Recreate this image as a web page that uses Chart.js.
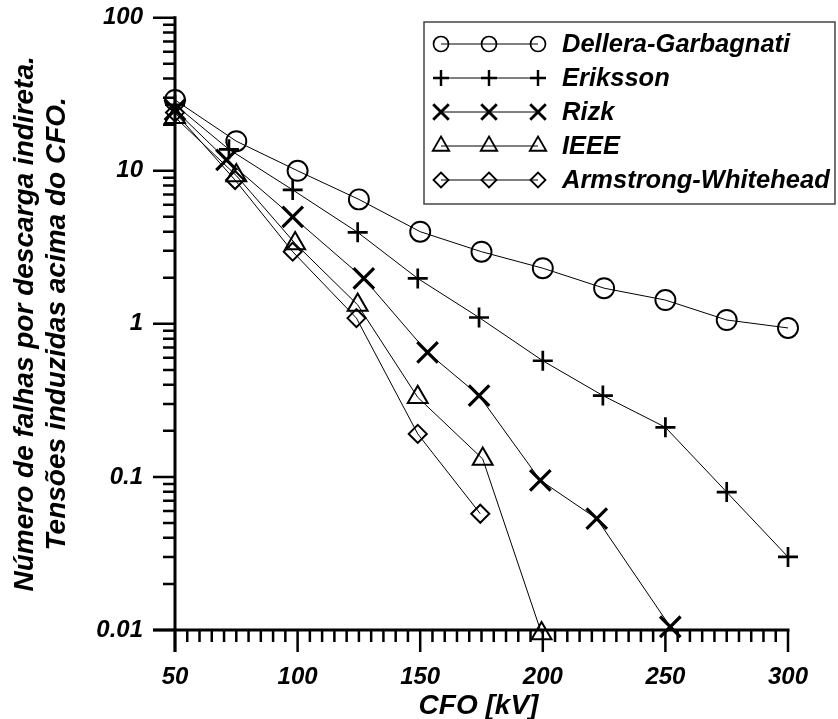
<!DOCTYPE html>
<html>
<head>
<meta charset="utf-8">
<script src="https://cdn.jsdelivr.net/npm/chart.js@4"></script>
<style>
  html, body { margin: 0; padding: 0; background: #ffffff; }
  #wrap { position: relative; width: 838px; height: 719px; }
</style>
</head>
<body>
<div id="wrap"><canvas id="c" width="838" height="719"></canvas></div>
<script>
// ---- data ----
const seriesNames = ['Dellera-Garbagnati', 'Eriksson', 'Rizk', 'IEEE', 'Armstrong-Whitehead'];

const cfoDellera = [50, 75, 100, 125, 150, 175, 200, 225, 250, 275, 300];
const dellera    = [29, 15.6, 10, 6.5, 4.0, 2.96, 2.31, 1.71, 1.43, 1.06, 0.94];

const cfoEriksson = [50, 72, 98, 124.5, 149, 174, 200, 224.5, 250, 275, 300];
const eriksson    = [27, 13.8, 7.5, 3.96, 1.98, 1.1, 0.574, 0.34, 0.211, 0.0796, 0.030];

const cfoRizk = [50, 71, 98, 127, 153, 174, 199, 222, 252];
const rizk    = [25, 11.8, 5.0, 1.98, 0.65, 0.34, 0.095, 0.0534, 0.0105];

const cfoIEEE = [50, 75, 99, 124.5, 149, 175.5, 199.5];
const ieee    = [22.4, 9.3, 3.35, 1.33, 0.331, 0.131, 0.0095];

const cfoArmstrong = [50, 74.5, 98, 124, 149, 174.5];
const armstrong    = [24, 8.7, 2.96, 1.09, 0.191, 0.0575];

const xTickValues = [50, 100, 150, 200, 250, 300];
const xTickLabels = ['50', '100', '150', '200', '250', '300'];
const yTickValues = [0.01, 0.1, 1, 10, 100];
const yTickLabels = ['0.01', '0.1', '1', '10', '100'];

const xTitle = 'CFO [kV]';
const yTitleLines = ['Número de falhas por descarga indireta.', 'Tensões induzidas acima do CFO.'];

// ---- styles ----
const FONT_FAMILY = "'Liberation Sans', Arial, sans-serif";
const markerStyles = [
  { pointStyle: 'circle',   radius: 10,   width: 1.9, legendRadius: 7.5 },
  { pointStyle: 'cross',    radius: 10,   width: 2.7, legendRadius: 8 },
  { pointStyle: 'crossRot', radius: 14.5, width: 3.2, legendRadius: 11 },
  { pointStyle: 'triangle', radius: 11.5, width: 2,   legendRadius: 9.5 },
  { pointStyle: 'rectRot',  radius: 9,    width: 2,   legendRadius: 7.5 }
];

const xs = [cfoDellera, cfoEriksson, cfoRizk, cfoIEEE, cfoArmstrong];
const ys = [dellera, eriksson, rizk, ieee, armstrong];

const datasets = seriesNames.map((name, i) => ({
  label: name,
  data: xs[i].map((x, j) => ({ x: x, y: ys[i][j] })),
  borderColor: '#000',
  borderWidth: 1,
  pointStyle: markerStyles[i].pointStyle,
  pointRadius: markerStyles[i].radius,
  pointHoverRadius: markerStyles[i].radius,
  pointBorderWidth: markerStyles[i].width,
  pointBorderColor: '#000',
  pointBackgroundColor: 'rgba(0,0,0,0)',
  showLine: true,
  fill: false,
  tension: 0,
  clip: false
}));

// axes, ticks, titles and legend
const decorPlugin = {
  id: 'decor',
  afterDraw(chart) {
    const ctx = chart.ctx;
    const xS = chart.scales.x, yS = chart.scales.y;
    const left = xS.getPixelForValue(50), right = xS.getPixelForValue(300);
    const top = yS.getPixelForValue(100), bottom = yS.getPixelForValue(0.01);
    const MAJ = 22, MIN = 12;
    ctx.save();
    ctx.strokeStyle = '#000';
    ctx.lineCap = 'butt';
    ctx.lineWidth = 3;
    // axis lines
    ctx.beginPath();
    ctx.moveTo(left, top - 1.5); ctx.lineTo(left, bottom + MAJ);
    ctx.moveTo(left - MAJ, bottom); ctx.lineTo(right + 1.5, bottom);
    ctx.stroke();
    // y ticks
    ctx.lineWidth = 2.5;
    ctx.beginPath();
    yTickValues.forEach((d, i) => {
      const py = yS.getPixelForValue(d);
      ctx.moveTo(left - MAJ, py); ctx.lineTo(left, py);
      if (i < yTickValues.length - 1) {
        for (let k = 2; k <= 9; k++) {
          const p = yS.getPixelForValue(k * d);
          ctx.moveTo(left - MIN, p); ctx.lineTo(left, p);
        }
      }
    });
    // x ticks
    for (let v = 50; v <= 300; v += 5) {
      const px = xS.getPixelForValue(v);
      const len = (v % 50 === 0) ? MAJ : MIN;
      ctx.moveTo(px, bottom); ctx.lineTo(px, bottom + len);
    }
    ctx.stroke();

    // titles
    ctx.fillStyle = '#000';
    ctx.font = 'italic bold 28px ' + FONT_FAMILY;
    ctx.textAlign = 'center';
    ctx.textBaseline = 'alphabetic';
    ctx.fillText(xTitle, (left + right) / 2 - 3, 714);

    ctx.font = 'italic bold 28px ' + FONT_FAMILY;
    const cy = (top + bottom) / 2;
    [33, 65].forEach((bx, i) => {
      ctx.save();
      ctx.translate(bx, cy);
      ctx.rotate(-Math.PI / 2);
      ctx.fillText(yTitleLines[i], 0, 0);
      ctx.restore();
    });

    // legend
    const box = { x: 424, y: 22, w: 411, h: 182 };
    ctx.fillStyle = '#fff';
    ctx.fillRect(box.x, box.y, box.w, box.h);
    ctx.strokeStyle = '#444';
    ctx.lineWidth = 1.5;
    ctx.strokeRect(box.x, box.y, box.w, box.h);
    const mx = [441, 489, 538];
    seriesNames.forEach((name, i) => {
      const ry = 44 + i * 34;
      ctx.strokeStyle = '#000';
      ctx.lineWidth = 1;
      ctx.beginPath();
      ctx.moveTo(mx[0], ry); ctx.lineTo(mx[2], ry);
      ctx.stroke();
      mx.forEach(x => {
        ctx.lineWidth = markerStyles[i].width * 0.9;
        ctx.fillStyle = 'rgba(0,0,0,0)';
        Chart.helpers.drawPoint(ctx, {
          pointStyle: markerStyles[i].pointStyle,
          radius: markerStyles[i].legendRadius,
          rotation: 0,
          borderWidth: markerStyles[i].width
        }, x, ry);
      });
      ctx.fillStyle = '#000';
      ctx.font = 'italic bold 25.5px ' + FONT_FAMILY;
      ctx.textAlign = 'left';
      ctx.textBaseline = 'middle';
      ctx.fillText(name, 562, ry + 1);
    });
    ctx.restore();
  }
};

new Chart(document.getElementById('c'), {
  type: 'scatter',
  data: { datasets: datasets },
  options: {
    responsive: false,
    animation: false,
    events: [],
    layout: { padding: { top: 16, right: 50, bottom: 0, left: 0 } },
    plugins: { legend: { display: false }, tooltip: { enabled: false } },
    scales: {
      x: {
        type: 'linear',
        min: 50, max: 300,
        grid: { display: false, drawTicks: false },
        border: { display: false },
        afterBuildTicks(s) { s.ticks = xTickValues.map(v => ({ value: v })); },
        afterFit(s) { s.height = 89; s.paddingLeft = 0; s.paddingRight = 0; },
        ticks: {
          autoSkip: false,
          maxRotation: 0,
          padding: 33,
          color: '#000',
          font: { family: FONT_FAMILY, size: 24, style: 'italic', weight: 'bold' },
          callback: (v) => { const i = xTickValues.indexOf(v); return i >= 0 ? xTickLabels[i] : ''; }
        }
      },
      y: {
        type: 'logarithmic',
        min: 0.01, max: 100,
        grid: { display: false, drawTicks: false },
        border: { display: false },
        afterBuildTicks(s) { s.ticks = yTickValues.map(v => ({ value: v })); },
        afterFit(s) { s.width = 175; s.paddingTop = 0; s.paddingBottom = 0; },
        ticks: {
          autoSkip: false,
          padding: 32,
          color: '#000',
          font: { family: FONT_FAMILY, size: 24, style: 'italic', weight: 'bold' },
          callback: (v) => {
            const i = yTickValues.findIndex(t => Math.abs(t - v) / t < 1e-6);
            return i >= 0 ? yTickLabels[i] : '';
          }
        }
      }
    }
  },
  plugins: [decorPlugin]
});
</script>
</body>
</html>
